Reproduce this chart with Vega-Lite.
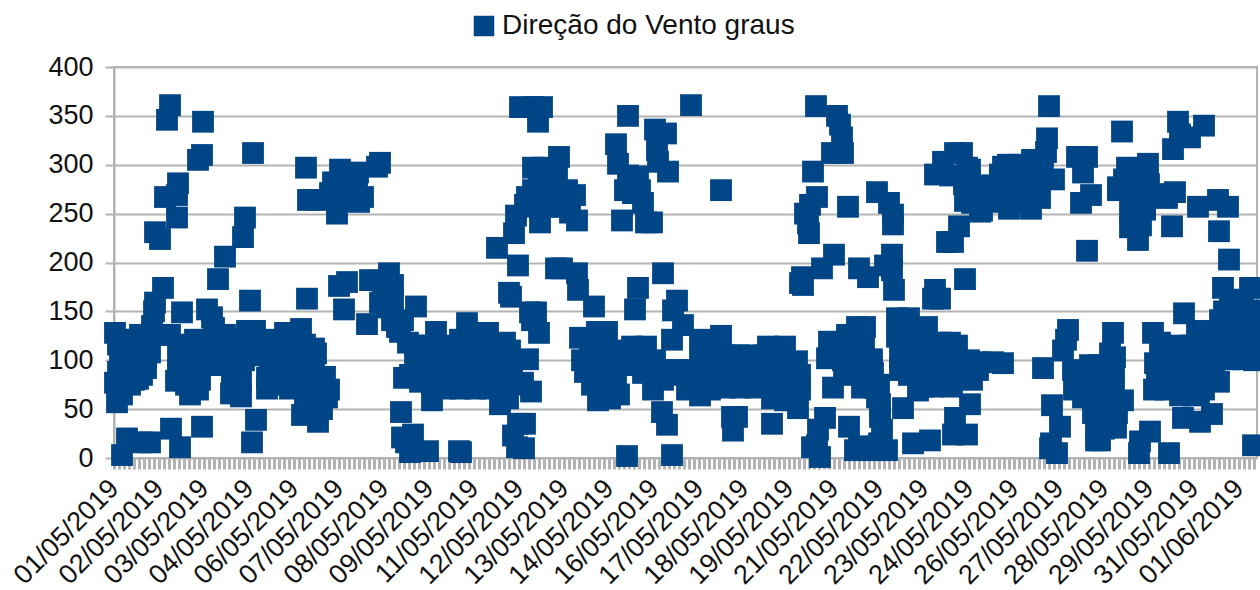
{"$schema":"https://vega.github.io/schema/vega-lite/v6.json","width":1143,"height":391,"autosize":{"type":"none"},"padding":{"left":114,"top":67,"right":3,"bottom":132},"background":"white","config":{"font":"Liberation Sans","view":{"stroke":"#b3b3b3","strokeWidth":2}},"data":{"values":[{"n":8,"d":3},{"n":13,"d":20},{"n":28,"d":16},{"n":36,"d":16},{"n":57,"d":30},{"n":66,"d":11},{"n":88,"d":32},{"n":142,"d":39},{"n":138,"d":16},{"n":1,"d":128},{"n":4,"d":121},{"n":1,"d":77},{"n":3,"d":57},{"n":49,"d":174},{"n":41,"d":159},{"n":40,"d":150},{"n":38,"d":135},{"n":68,"d":149},{"n":26,"d":126},{"n":36,"d":126},{"n":46,"d":126},{"n":56,"d":126},{"n":93,"d":152},{"n":98,"d":144},{"n":100,"d":133},{"n":133,"d":130},{"n":141,"d":130},{"n":187,"d":132},{"n":171,"d":128},{"n":202,"d":107},{"n":211,"d":83},{"n":215,"d":70},{"n":213,"d":62},{"n":208,"d":50},{"n":204,"d":37},{"n":188,"d":44},{"n":24,"d":81},{"n":62,"d":79},{"n":76,"d":65},{"n":117,"d":66},{"n":127,"d":63},{"n":153,"d":71},{"n":176,"d":71},{"n":4,"d":116},{"n":6,"d":108},{"n":10,"d":98},{"n":4,"d":88},{"n":14,"d":121},{"n":21,"d":116},{"n":26,"d":105},{"n":16,"d":90},{"n":11,"d":80},{"n":24,"d":98},{"n":32,"d":102},{"n":32,"d":92},{"n":16,"d":75},{"n":74,"d":116},{"n":81,"d":121},{"n":71,"d":100},{"n":81,"d":100},{"n":91,"d":110},{"n":86,"d":80},{"n":86,"d":95},{"n":96,"d":121},{"n":111,"d":126},{"n":104,"d":110},{"n":111,"d":95},{"n":101,"d":98},{"n":116,"d":110},{"n":126,"d":121},{"n":136,"d":110},{"n":126,"d":95},{"n":118,"d":80},{"n":127,"d":80},{"n":141,"d":116},{"n":151,"d":116},{"n":161,"d":121},{"n":171,"d":116},{"n":181,"d":116},{"n":191,"d":116},{"n":156,"d":95},{"n":166,"d":100},{"n":176,"d":100},{"n":186,"d":100},{"n":196,"d":100},{"n":153,"d":82},{"n":166,"d":82},{"n":186,"d":80},{"n":196,"d":80},{"n":206,"d":80},{"n":191,"d":59},{"n":201,"d":64},{"n":208,"d":64},{"n":56,"d":361},{"n":53,"d":346},{"n":89,"d":344},{"n":88,"d":310},{"n":84,"d":305},{"n":139,"d":312},{"n":64,"d":281},{"n":51,"d":267},{"n":63,"d":269},{"n":63,"d":246},{"n":41,"d":231},{"n":46,"d":224},{"n":131,"d":246},{"n":129,"d":226},{"n":111,"d":206},{"n":104,"d":183},{"n":136,"d":161},{"n":193,"d":163},{"n":192,"d":297},{"n":194,"d":264},{"n":203,"d":264},{"n":226,"d":295},{"n":219,"d":282},{"n":216,"d":271},{"n":223,"d":250},{"n":239,"d":288},{"n":249,"d":267},{"n":236,"d":264},{"n":229,"d":271},{"n":243,"d":277},{"n":266,"d":302},{"n":263,"d":298},{"n":244,"d":292},{"n":226,"d":277},{"n":225,"d":176},{"n":233,"d":180},{"n":230,"d":152},{"n":253,"d":137},{"n":256,"d":182},{"n":275,"d":189},{"n":273,"d":167},{"n":273,"d":154},{"n":269,"d":172},{"n":266,"d":159},{"n":283,"d":134},{"n":286,"d":129},{"n":279,"d":177},{"n":279,"d":162},{"n":302,"d":155},{"n":290,"d":82},{"n":287,"d":47},{"n":292,"d":16},{"n":299,"d":24},{"n":288,"d":21},{"n":314,"d":7},{"n":296,"d":6},{"n":347,"d":6},{"n":345,"d":7},{"n":289,"d":141},{"n":294,"d":118},{"n":278,"d":141},{"n":322,"d":129},{"n":353,"d":138},{"n":374,"d":128},{"n":391,"d":118},{"n":301,"d":115},{"n":316,"d":115},{"n":331,"d":115},{"n":346,"d":121},{"n":361,"d":121},{"n":376,"d":115},{"n":301,"d":100},{"n":316,"d":100},{"n":331,"d":100},{"n":346,"d":100},{"n":361,"d":100},{"n":376,"d":100},{"n":391,"d":100},{"n":296,"d":85},{"n":311,"d":85},{"n":326,"d":85},{"n":341,"d":85},{"n":356,"d":85},{"n":371,"d":85},{"n":386,"d":85},{"n":396,"d":85},{"n":306,"d":78},{"n":331,"d":71},{"n":346,"d":71},{"n":361,"d":71},{"n":376,"d":71},{"n":318,"d":59},{"n":386,"d":55},{"n":394,"d":61},{"n":414,"d":101},{"n":417,"d":68},{"n":409,"d":77},{"n":404,"d":35},{"n":411,"d":35},{"n":399,"d":23},{"n":410,"d":10},{"n":403,"d":11},{"n":396,"d":110},{"n":396,"d":75},{"n":406,"d":359},{"n":419,"d":359},{"n":428,"d":359},{"n":424,"d":344},{"n":445,"d":308},{"n":419,"d":297},{"n":429,"d":297},{"n":443,"d":292},{"n":413,"d":267},{"n":453,"d":274},{"n":461,"d":269},{"n":463,"d":243},{"n":426,"d":241},{"n":402,"d":248},{"n":400,"d":230},{"n":383,"d":215},{"n":404,"d":197},{"n":395,"d":169},{"n":397,"d":165},{"n":416,"d":149},{"n":422,"d":149},{"n":418,"d":141},{"n":425,"d":128},{"n":419,"d":274},{"n":431,"d":277},{"n":439,"d":274},{"n":433,"d":257},{"n":421,"d":257},{"n":446,"d":257},{"n":456,"d":251},{"n":443,"d":261},{"n":411,"d":259},{"n":442,"d":194},{"n":448,"d":194},{"n":463,"d":189},{"n":464,"d":172},{"n":480,"d":155},{"n":549,"d":189},{"n":524,"d":174},{"n":521,"d":152},{"n":514,"d":350},{"n":577,"d":361},{"n":502,"d":321},{"n":504,"d":301},{"n":524,"d":288},{"n":511,"d":274},{"n":529,"d":261},{"n":508,"d":243},{"n":532,"d":241},{"n":538,"d":241},{"n":519,"d":271},{"n":526,"d":274},{"n":514,"d":289},{"n":541,"d":336},{"n":552,"d":332},{"n":543,"d":315},{"n":544,"d":303},{"n":554,"d":293},{"n":483,"d":129},{"n":493,"d":129},{"n":466,"d":123},{"n":468,"d":100},{"n":471,"d":88},{"n":484,"d":59},{"n":496,"d":61},{"n":502,"d":79},{"n":518,"d":114},{"n":532,"d":114},{"n":479,"d":107},{"n":493,"d":103},{"n":503,"d":97},{"n":486,"d":87},{"n":499,"d":87},{"n":493,"d":73},{"n":516,"d":95},{"n":529,"d":87},{"n":539,"d":70},{"n":548,"d":47},{"n":553,"d":34},{"n":558,"d":3},{"n":513,"d":2},{"n":563,"d":161},{"n":559,"d":151},{"n":569,"d":136},{"n":558,"d":121},{"n":573,"d":90},{"n":573,"d":70},{"n":586,"d":121},{"n":586,"d":100},{"n":579,"d":80},{"n":549,"d":90},{"n":539,"d":90},{"n":563,"d":90},{"n":586,"d":64},{"n":607,"d":274},{"n":702,"d":360},{"n":723,"d":350},{"n":726,"d":341},{"n":728,"d":328},{"n":729,"d":312},{"n":718,"d":312},{"n":699,"d":293},{"n":703,"d":267},{"n":696,"d":259},{"n":691,"d":250},{"n":694,"d":240},{"n":695,"d":230},{"n":734,"d":257},{"n":763,"d":272},{"n":775,"d":261},{"n":779,"d":249},{"n":779,"d":239},{"n":720,"d":208},{"n":708,"d":194},{"n":688,"d":185},{"n":689,"d":177},{"n":686,"d":179},{"n":745,"d":194},{"n":754,"d":185},{"n":778,"d":208},{"n":771,"d":197},{"n":778,"d":192},{"n":780,"d":172},{"n":821,"d":172},{"n":819,"d":163},{"n":826,"d":163},{"n":851,"d":183},{"n":848,"d":312},{"n":841,"d":312},{"n":829,"d":303},{"n":821,"d":290},{"n":853,"d":297},{"n":836,"d":289},{"n":856,"d":284},{"n":851,"d":263},{"n":866,"d":252},{"n":858,"d":261},{"n":845,"d":237},{"n":833,"d":221},{"n":839,"d":221},{"n":871,"d":274},{"n":879,"d":277},{"n":886,"d":290},{"n":861,"d":274},{"n":783,"d":143},{"n":795,"d":143},{"n":813,"d":134},{"n":783,"d":124},{"n":786,"d":103},{"n":786,"d":90},{"n":803,"d":87},{"n":816,"d":100},{"n":803,"d":113},{"n":843,"d":115},{"n":836,"d":118},{"n":826,"d":118},{"n":839,"d":93},{"n":866,"d":98},{"n":864,"d":90},{"n":879,"d":98},{"n":804,"d":69},{"n":819,"d":73},{"n":838,"d":73},{"n":789,"d":51},{"n":809,"d":73},{"n":821,"d":90},{"n":831,"d":105},{"n":851,"d":95},{"n":856,"d":55},{"n":841,"d":41},{"n":853,"d":24},{"n":839,"d":24},{"n":799,"d":15},{"n":816,"d":18},{"n":743,"d":134},{"n":751,"d":134},{"n":733,"d":126},{"n":715,"d":119},{"n":713,"d":102},{"n":758,"d":101},{"n":719,"d":72},{"n":729,"d":100},{"n":743,"d":107},{"n":726,"d":113},{"n":746,"d":87},{"n":759,"d":87},{"n":736,"d":90},{"n":763,"d":62},{"n":766,"d":42},{"n":768,"d":29},{"n":773,"d":8},{"n":741,"d":8},{"n":735,"d":32},{"n":759,"d":8},{"n":711,"d":41},{"n":704,"d":29},{"n":698,"d":11},{"n":706,"d":1},{"n":703,"d":13},{"n":607,"d":125},{"n":596,"d":118},{"n":654,"d":114},{"n":671,"d":114},{"n":683,"d":99},{"n":686,"d":85},{"n":686,"d":70},{"n":684,"d":51},{"n":658,"d":35},{"n":618,"d":42},{"n":623,"d":42},{"n":619,"d":28},{"n":601,"d":100},{"n":616,"d":105},{"n":631,"d":100},{"n":646,"d":100},{"n":661,"d":100},{"n":671,"d":95},{"n":598,"d":85},{"n":611,"d":85},{"n":626,"d":85},{"n":641,"d":85},{"n":656,"d":85},{"n":671,"d":80},{"n":596,"d":70},{"n":611,"d":72},{"n":626,"d":72},{"n":641,"d":72},{"n":658,"d":61},{"n":671,"d":59},{"n":601,"d":116},{"n":935,"d":360},{"n":933,"d":327},{"n":932,"d":313},{"n":918,"d":305},{"n":894,"d":300},{"n":889,"d":298},{"n":856,"d":295},{"n":874,"d":279},{"n":917,"d":255},{"n":868,"d":253},{"n":896,"d":263},{"n":926,"d":266},{"n":940,"d":285},{"n":929,"d":295},{"n":906,"d":290},{"n":881,"d":274},{"n":911,"d":274},{"n":886,"d":285},{"n":904,"d":300},{"n":963,"d":308},{"n":973,"d":308},{"n":969,"d":292},{"n":977,"d":269},{"n":967,"d":261},{"n":973,"d":212},{"n":1008,"d":334},{"n":1034,"d":301},{"n":1013,"d":297},{"n":1004,"d":277},{"n":1004,"d":274},{"n":1019,"d":285},{"n":1061,"d":272},{"n":1053,"d":266},{"n":1031,"d":257},{"n":1019,"d":261},{"n":1016,"d":236},{"n":1024,"d":223},{"n":1031,"d":254},{"n":1027,"d":238},{"n":1058,"d":237},{"n":1041,"d":269},{"n":1016,"d":254},{"n":1084,"d":257},{"n":1104,"d":264},{"n":1114,"d":257},{"n":1105,"d":232},{"n":1115,"d":203},{"n":1064,"d":344},{"n":1059,"d":316},{"n":1076,"d":328},{"n":1090,"d":340},{"n":1066,"d":331},{"n":954,"d":131},{"n":952,"d":121},{"n":949,"d":110},{"n":929,"d":92},{"n":889,"d":97},{"n":938,"d":54},{"n":946,"d":32},{"n":937,"d":15},{"n":943,"d":5},{"n":936,"d":10},{"n":999,"d":128},{"n":996,"d":107},{"n":1001,"d":103},{"n":959,"d":90},{"n":962,"d":80},{"n":971,"d":85},{"n":986,"d":75},{"n":996,"d":80},{"n":1009,"d":59},{"n":1003,"d":46},{"n":1002,"d":31},{"n":982,"d":18},{"n":986,"d":18},{"n":979,"d":46},{"n":969,"d":62},{"n":986,"d":62},{"n":996,"d":62},{"n":976,"d":95},{"n":991,"d":49},{"n":986,"d":39},{"n":991,"d":85},{"n":981,"d":75},{"n":1039,"d":128},{"n":1046,"d":118},{"n":1041,"d":97},{"n":1043,"d":83},{"n":1040,"d":70},{"n":1070,"d":148},{"n":1061,"d":115},{"n":1076,"d":115},{"n":1091,"d":115},{"n":1083,"d":128},{"n":1106,"d":141},{"n":1109,"d":174},{"n":1136,"d":174},{"n":1129,"d":162},{"n":1116,"d":156},{"n":1129,"d":141},{"n":1136,"d":146},{"n":1143,"d":131},{"n":1116,"d":126},{"n":1101,"d":126},{"n":1129,"d":101},{"n":1116,"d":101},{"n":1100,"d":90},{"n":1088,"d":77},{"n":1085,"d":66},{"n":1098,"d":45},{"n":1086,"d":37},{"n":1069,"d":41},{"n":1036,"d":27},{"n":1025,"d":5},{"n":1026,"d":17},{"n":1055,"d":5},{"n":1139,"d":13},{"n":1056,"d":95},{"n":1071,"d":95},{"n":1086,"d":100},{"n":1056,"d":80},{"n":1071,"d":80},{"n":1066,"d":64},{"n":1079,"d":64},{"n":1051,"d":70},{"n":1101,"d":110},{"n":1136,"d":115},{"n":1143,"d":151},{"n":1143,"d":115},{"n":8,"d":110},{"n":18,"d":105},{"n":10,"d":88},{"n":20,"d":80},{"n":8,"d":65},{"n":20,"d":88},{"n":36,"d":108},{"n":28,"d":85},{"n":70,"d":85},{"n":78,"d":110},{"n":92,"d":95},{"n":66,"d":110},{"n":76,"d":90},{"n":64,"d":105},{"n":64,"d":90},{"n":72,"d":75},{"n":84,"d":70},{"n":106,"d":118},{"n":116,"d":120},{"n":130,"d":100},{"n":120,"d":90},{"n":122,"d":105},{"n":118,"d":95},{"n":124,"d":70},{"n":146,"d":105},{"n":160,"d":108},{"n":175,"d":108},{"n":190,"d":108},{"n":200,"d":112},{"n":160,"d":88},{"n":175,"d":88},{"n":190,"d":90},{"n":200,"d":90},{"n":160,"d":75},{"n":205,"d":58},{"n":190,"d":75},{"n":175,"d":80},{"n":308,"d":108},{"n":323,"d":108},{"n":338,"d":108},{"n":353,"d":108},{"n":368,"d":108},{"n":383,"d":108},{"n":308,"d":92},{"n":323,"d":92},{"n":338,"d":92},{"n":353,"d":92},{"n":368,"d":92},{"n":383,"d":92},{"n":398,"d":92},{"n":318,"d":75},{"n":338,"d":77},{"n":353,"d":78},{"n":368,"d":78},{"n":383,"d":75},{"n":476,"d":115},{"n":490,"d":115},{"n":505,"d":110},{"n":480,"d":95},{"n":510,"d":100},{"n":525,"d":100},{"n":478,"d":75},{"n":490,"d":85},{"n":505,"d":65},{"n":541,"d":100},{"n":539,"d":85},{"n":549,"d":80},{"n":555,"d":85},{"n":610,"d":105},{"n":625,"d":105},{"n":636,"d":105},{"n":650,"d":105},{"n":620,"d":95},{"n":635,"d":92},{"n":650,"d":92},{"n":665,"d":95},{"n":605,"d":78},{"n":620,"d":78},{"n":635,"d":78},{"n":650,"d":78},{"n":665,"d":75},{"n":678,"d":88},{"n":678,"d":65},{"n":668,"d":68},{"n":793,"d":125},{"n":800,"d":105},{"n":810,"d":118},{"n":795,"d":85},{"n":810,"d":85},{"n":805,"d":75},{"n":825,"d":105},{"n":840,"d":105},{"n":855,"d":100},{"n":815,"d":75},{"n":830,"d":80},{"n":845,"d":85},{"n":858,"d":80},{"n":720,"d":115},{"n":735,"d":115},{"n":750,"d":118},{"n":730,"d":85},{"n":745,"d":100},{"n":748,"d":72},{"n":760,"d":72},{"n":765,"d":75},{"n":766,"d":55},{"n":745,"d":12},{"n":765,"d":15},{"n":850,"d":280},{"n":865,"d":270},{"n":882,"d":262},{"n":895,"d":280},{"n":905,"d":265},{"n":915,"d":285},{"n":925,"d":280},{"n":905,"d":275},{"n":895,"d":255},{"n":975,"d":75},{"n":985,"d":95},{"n":995,"d":95},{"n":975,"d":78},{"n":985,"d":88},{"n":1000,"d":90},{"n":960,"d":70},{"n":972,"d":65},{"n":985,"d":50},{"n":995,"d":45},{"n":990,"d":30},{"n":982,"d":30},{"n":1000,"d":70},{"n":1050,"d":105},{"n":1065,"d":105},{"n":1080,"d":105},{"n":1095,"d":100},{"n":1110,"d":105},{"n":1125,"d":125},{"n":1140,"d":100},{"n":1110,"d":120},{"n":1125,"d":110},{"n":1060,"d":85},{"n":1075,"d":88},{"n":1090,"d":85},{"n":1105,"d":78},{"n":1080,"d":72},{"n":1090,"d":70},{"n":1110,"d":150},{"n":1125,"d":150},{"n":1090,"d":130},{"n":1098,"d":118},{"n":1135,"d":130},{"n":1125,"d":135},{"n":1025,"d":270},{"n":1035,"d":280},{"n":1045,"d":270},{"n":1010,"d":285},{"n":1030,"d":270},{"n":425,"d":285},{"n":435,"d":265},{"n":450,"d":265},{"n":430,"d":283},{"n":455,"d":260},{"n":235,"d":280},{"n":245,"d":262}]},"mark":{"type":"square","filled":true,"size":475,"opacity":1},"encoding":{"x":{"field":"n","type":"quantitative","scale":{"domain":[0,1143],"nice":false,"zero":false},"title":null,"axis":{"grid":false,"domain":false,"values":[0,5,10,15,20,25,30,35,40,45,50,55,60,65,70,75,80,85,90,95,100,105,110,115,120,125,130,135,140,145,150,155,160,165,170,175,180,185,190,195,200,205,210,215,220,225,230,235,240,245,250,255,260,265,270,275,280,285,290,295,300,305,310,315,320,325,330,335,340,345,350,355,360,365,370,375,380,385,390,395,400,405,410,415,420,425,430,435,440,445,450,455,460,465,470,475,480,485,490,495,500,505,510,515,520,525,530,535,540,545,550,555,560,565,570,575,580,585,590,595,600,605,610,615,620,625,630,635,640,645,650,655,660,665,670,675,680,685,690,695,700,705,710,715,720,725,730,735,740,745,750,755,760,765,770,775,780,785,790,795,800,805,810,815,820,825,830,835,840,845,850,855,860,865,870,875,880,885,890,895,900,905,910,915,920,925,930,935,940,945,950,955,960,965,970,975,980,985,990,995,1000,1005,1010,1015,1020,1025,1030,1035,1040,1045,1050,1055,1060,1065,1070,1075,1080,1085,1090,1095,1100,1105,1110,1115,1120,1125,1130,1135,1140],"labelExpr":"datum.value % 45 == 0 ? ['01/05/2019','02/05/2019','03/05/2019','04/05/2019','06/05/2019','07/05/2019','08/05/2019','09/05/2019','11/05/2019','12/05/2019','13/05/2019','14/05/2019','16/05/2019','17/05/2019','18/05/2019','19/05/2019','21/05/2019','22/05/2019','23/05/2019','24/05/2019','26/05/2019','27/05/2019','28/05/2019','29/05/2019','31/05/2019','01/06/2019'][datum.value/45] : ''","labelOverlap":false,"labelBound":false,"labelFlush":false,"labelAngle":-45,"labelAlign":"right","labelBaseline":"middle","labelFontSize":27,"labelColor":"#111111","labelPadding":15,"tickColor":"#b3b3b3","tickWidth":3,"tickSize":11}},"y":{"field":"d","type":"quantitative","scale":{"domain":[0,400],"nice":false},"title":null,"axis":{"values":[0,50,100,150,200,250,300,350,400],"grid":true,"gridColor":"#b3b3b3","gridWidth":2,"domainColor":"#b3b3b3","domainWidth":2,"tickColor":"#b3b3b3","tickWidth":2,"tickSize":9,"labelFontSize":27,"labelColor":"#111111","labelPadding":12}},"color":{"datum":"Direção do Vento graus","type":"nominal","scale":{"range":["#004586"]},"legend":{"title":null,"orient":"none","legendX":356,"legendY":-55,"symbolType":"square","symbolSize":420,"symbolOpacity":1,"symbolFillColor":"#004586","labelFontSize":28,"labelColor":"#111111","labelLimit":500,"labelOffset":4}}}}
